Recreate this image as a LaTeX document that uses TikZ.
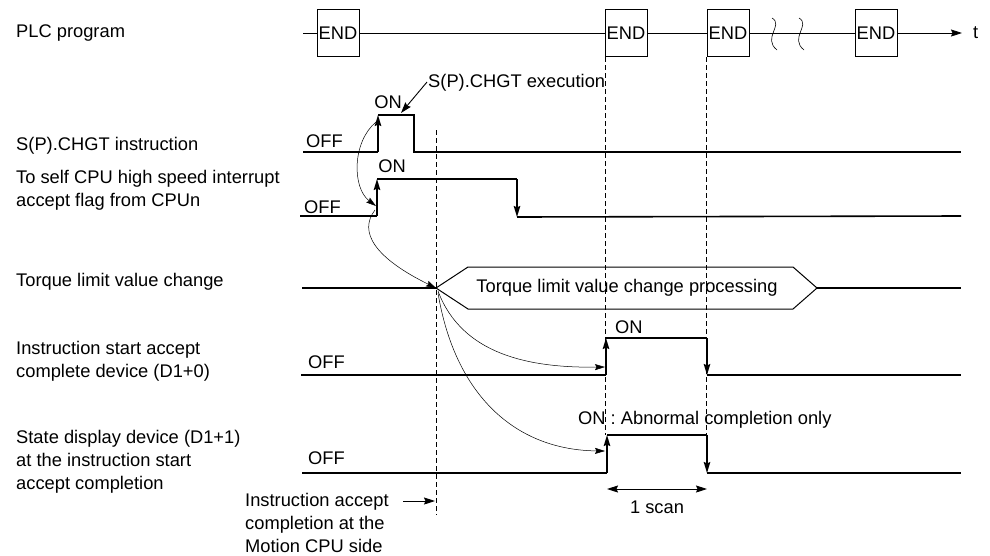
\documentclass[tikz,border=0pt]{standalone}
\usepackage{fontspec}
\setmainfont{Liberation Sans}
\usetikzlibrary{arrows.meta}
\begin{document}
\begin{tikzpicture}[x=1pt,y=-1pt,
  every node/.style={font=\fontsize{18.3}{23}\selectfont, inner sep=0pt},
  lbl/.style={anchor=west, align=left},
  sig/.style={line width=1.6pt},
  plc/.style={line width=0.8pt},
  endbox/.style={draw, line width=1pt, minimum width=42pt, minimum height=47pt, fill=white},
  dline/.style={line width=0.8pt, dash pattern=on 5pt off 3pt},
  curv/.style={line width=0.5pt, -{Stealth[length=10pt,width=6pt,inset=1.5pt]}},
  vtip/.style={line width=1.6pt, -{Stealth[length=11pt,width=6.5pt,inset=1.5pt]}},
  htip/.style={line width=0.9pt, -{Stealth[length=11pt,width=7pt,inset=1.5pt]}},
  dtip/.style={line width=0.9pt, {Stealth[length=11pt,width=7pt,inset=1.5pt]}-{Stealth[length=11pt,width=7pt,inset=1.5pt]}},
]
\useasboundingbox (0,0) rectangle (990,555);

% ---------- row labels ----------
\node[lbl] (lPLC) at (16,33) {PLC program};
\node[lbl] (lS)   at (16,146) {S(P).CHGT instruction};
\node[lbl] (lF)   at (16,190) {To self CPU high speed interrupt\\accept flag from CPUn};
\node[lbl] (lT)   at (16,282) {Torque limit value change};
\node[lbl] (lI)   at (16,361) {Instruction start accept\\complete device (D1+0)};
\node[lbl] (lD)   at (16,462) {State display device (D1+1)\\at the instruction start\\accept completion};

% ---------- dashed time markers (behind) ----------
\coordinate (dA1) at (436,130); \coordinate (dA2) at (436,515);
\coordinate (dB1) at (605,57);  \coordinate (dB2) at (605,435);
\coordinate (dC1) at (706,57);  \coordinate (dC2) at (706,435);
\draw[dline] (dA1) -- (dA2);
\draw[dline] (dB1) -- (dB2);
\draw[dline] (dC1) -- (dC2);

% ---------- PLC program ----------
\coordinate (p0) at (303,33);
\coordinate (pEnd) at (962,33);
\draw[plc] (p0) -- (749,33);
\draw[plc] (749,33) -- (855,33);
\draw[htip,line width=0.8pt] (897,33) -- (pEnd);
\node[anchor=west] (tlab) at (973,33) {t};
\node[endbox] (e1) at (338,33) {END};
\node[endbox] (e2) at (626,33) {END};
\node[endbox] (e3) at (728,33) {END};
\node[endbox] (e4) at (876,33) {END};
% break marks
\draw[line width=0.6pt] (772,18) .. controls (784,25) and (762,38) .. (777,50);
\draw[line width=0.6pt] (799,18) .. controls (811,25) and (789,38) .. (804,50);

% ---------- S(P).CHGT instruction ----------
\coordinate (s1a) at (303,152); \coordinate (s1r) at (378,152);
\coordinate (s1t) at (378,115); \coordinate (s1f) at (414,115);
\coordinate (s1b) at (414,152); \coordinate (s1e) at (961,152);
\draw[sig] (s1a) -- (s1r);
\draw[vtip] (s1r) -- (s1t);
\draw[sig] (s1t) -- (s1f) -- (s1b) -- (s1e);
\node[lbl] (off1) at (306,141) {OFF};
\node (on1) at (388,102) {ON};
\node[lbl] (exe) at (428,83) {S(P).CHGT execution};
\coordinate (exeS) at (427,82);
\coordinate (exeT) at (401,113);
\draw[htip] (exeS) -- (exeT);

% ---------- accept flag ----------
\coordinate (s2a) at (300,216); \coordinate (s2r) at (377,216);
\coordinate (s2t) at (377,179); \coordinate (s2f) at (517,179);
\coordinate (s2b) at (517,217); \coordinate (s2e) at (961,216);
\draw[sig] (s2a) -- (s2r);
\draw[vtip] (s2r) -- (s2t);
\draw[sig] (s2t) -- (s2f);
\draw[vtip] (s2f) -- (s2b);
\draw[sig] (s2b) -- (s2e);
\node[lbl] (off2) at (304,207) {OFF};
\node (on2) at (392,166) {ON};

% ---------- torque limit value change ----------
\coordinate (tq0) at (302,288);
\coordinate (hx1) at (436,288);
\coordinate (hx6) at (817,288);
\coordinate (tq9) at (961,288);
\draw[sig] (tq0) -- (hx1);
\draw[line width=1pt] (hx1) -- (468,267) -- (793,267) -- (hx6) -- (793,309) -- (468,309) -- cycle;
\draw[sig] (hx6) -- (tq9);
\node (tqtxt) at (627,288) {Torque limit value change processing};

% ---------- instruction start accept complete device ----------
\coordinate (s3a) at (301,375); \coordinate (s3r) at (606,375);
\coordinate (s3t) at (606,338); \coordinate (s3f) at (707,338);
\coordinate (s3b) at (707,375); \coordinate (s3e) at (961,375);
\draw[sig] (s3a) -- (s3r);
\draw[vtip] (s3r) -- (s3t);
\draw[sig] (s3t) -- (s3f);
\draw[vtip] (s3f) -- (s3b);
\draw[sig] (s3b) -- (s3e);
\node[lbl] (off3) at (308,362) {OFF};
\node[lbl] (on3) at (615,327) {ON};

% ---------- state display device ----------
\coordinate (s4a) at (302,473); \coordinate (s4r) at (607,473);
\coordinate (s4t) at (607,435); \coordinate (s4f) at (707,435);
\coordinate (s4b) at (707,473); \coordinate (s4e) at (961,473);
\draw[sig] (s4a) -- (s4r);
\draw[vtip] (s4r) -- (s4t);
\draw[sig] (s4t) -- (s4f);
\draw[vtip] (s4f) -- (s4b);
\draw[sig] (s4b) -- (s4e);
\node[lbl] (off4) at (308,458) {OFF};
\node[lbl] (on4) at (578,420) {ON : Abnormal completion only};

% ---------- 1 scan ----------
\coordinate (sc1) at (607,489); \coordinate (sc2) at (707,489);
\draw[dtip] (sc1) -- (sc2);
\node (scan) at (657,507) {1 scan};

% ---------- motion CPU side note ----------
\node[lbl] (mot) at (245,523) {Instruction accept\\completion at the\\Motion CPU side};
\coordinate (ma1) at (403,501); \coordinate (ma2) at (435,501);
\draw[htip] (ma1) -- (ma2);

% ---------- causal curves ----------
\coordinate (c1s) at (376,122); \coordinate (c1e) at (376,206);
\draw[curv] (c1s) .. controls (352,142) and (352,188) .. (c1e);
\coordinate (c2s) at (375,210);
\draw[curv] (c2s) .. controls (358,232) and (375,258) .. (hx1);
\coordinate (c3s) at (438,291); \coordinate (c3e) at (605,367);
\draw[curv] (c3s) .. controls (462,355) and (530,368) .. (c3e);
\coordinate (c4s) at (438,293); \coordinate (c4e) at (605,451);
\draw[curv] (c4s) .. controls (455,395) and (515,450) .. (c4e);
\end{tikzpicture}
\end{document}
